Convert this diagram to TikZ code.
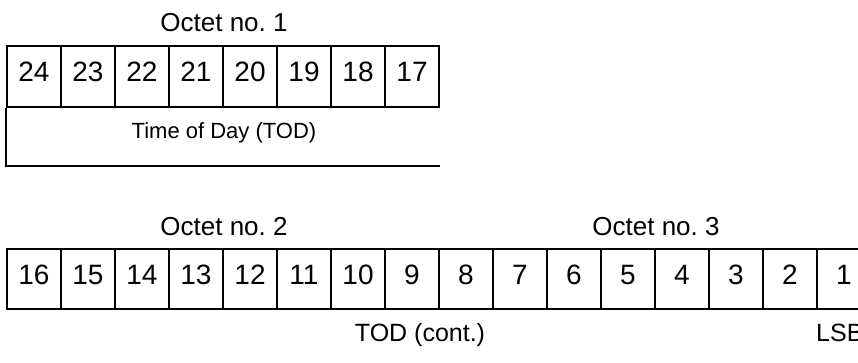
\documentclass[tikz,border=0pt]{standalone}
\usepackage{fontspec}
\setmainfont{Liberation Sans}
\frenchspacing
\begin{document}
\begin{tikzpicture}[
  x=1pt, y=-1pt,
  bitcell/.style={draw, line width=2pt, minimum width=54pt, minimum height=61pt, inner sep=0pt, text depth=9pt, font=\fontsize{28}{30}\selectfont},
  octet/.style={anchor=base, inner sep=0pt, font=\fontsize{26}{28}\selectfont},
  field/.style={anchor=base, inner sep=0pt, font=\fontsize{22}{24}\selectfont}
]
  \useasboundingbox (0,0) rectangle (858,362);
  \clip (0,0) rectangle (858,362);

  \foreach \b [count=\k from 0] in {24,23,...,17}
    \node[bitcell] (b\b) at (34+54*\k, 76.5) {\b};
  \foreach \b [count=\k from 0] in {16,15,...,1}
    \node[bitcell, minimum height=60pt] (b\b) at (34+54*\k, 279) {\b};

  \node[octet] (oct1) at (b21.east |- 0,31.5) {Octet no. 1};
  \node[octet] (oct2) at (b13.east |- 0,235) {Octet no. 2};
  \node[octet] (oct3) at (b5.east |- 0,235) {Octet no. 3};

  \coordinate (todend) at (b17.east |- 0,166);
  \draw[line width=2pt] (b24.south west) |- (todend);
  \node[field] (tod) at (b21.east |- 0,138) {Time of Day (TOD)};

  \node[field, font=\fontsize{25}{28}\selectfont] (todcont) at (420,341) {TOD (cont.)};
  \node[field, anchor=base west, font=\fontsize{25}{28}\selectfont] (lsb) at (b1.west |- 0,341) {LSB};
\end{tikzpicture}
\end{document}
